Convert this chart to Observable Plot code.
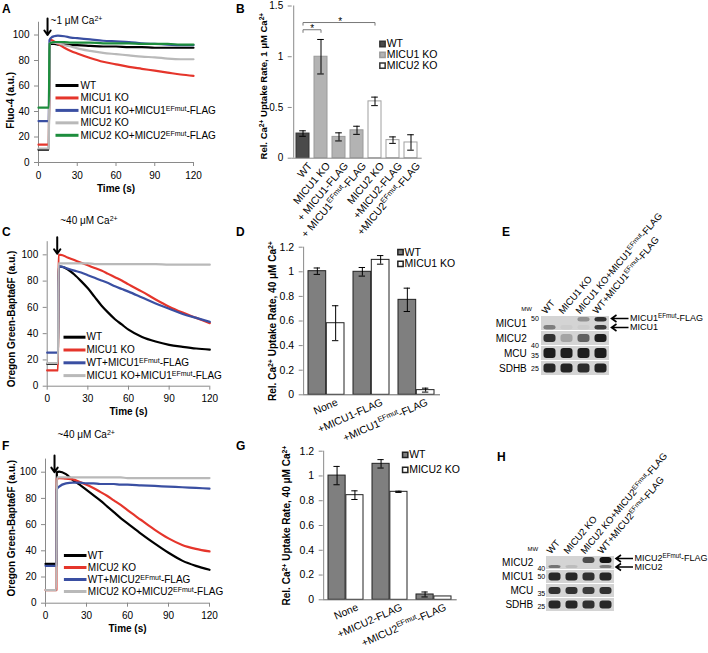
<!DOCTYPE html>
<html><head><meta charset="utf-8">
<script src="https://cdn.jsdelivr.net/npm/d3@7"></script>
<script src="https://cdn.jsdelivr.net/npm/@observablehq/plot@0.6"></script>
<style>
body{margin:0;background:#fff;}
#fig{position:relative;width:708px;height:653px;overflow:hidden;background:#fff;font-family:"Liberation Sans",Arial,Helvetica,sans-serif;}
.letter{position:absolute;font-weight:bold;font-size:12px;line-height:1;}
svg [aria-label="y-axis tick"], svg [aria-label="x-axis tick"]{stroke:#8a8a8a;}
svg [aria-label="y-axis"] .tick line, svg [aria-label="x-axis"] .tick line{stroke:#8a8a8a;}
</style></head><body><div id="fig"></div>
<script>
// ---------- Panel A: Fluo-4, ~1 uM Ca2+ ----------
const timeA = [0, 8, 8.5, 10, 12, 15, 20, 25, 30, 40, 50, 60, 70, 80, 90, 100, 110, 120];
const A_WT        = [10, 10, 93, 93, 93, 92.5, 92.5, 92, 92, 91.5, 91, 91, 90.5, 90.5, 90, 90, 90, 90];
const A_MICU1KO   = [14, 14, 96, 96, 95, 93, 90, 87.5, 85.5, 82, 79, 77, 75, 73.5, 72, 70.5, 69, 68];
const A_MICU1KOmut= [32.5, 32.5, 96, 98, 99, 99.5, 99, 98, 97.5, 96.5, 95.5, 95, 94.5, 93.5, 93, 92.5, 92, 92];
const A_MICU2KO   = [11, 11, 93, 94, 94, 93.5, 92, 91, 89.5, 87.5, 86, 85, 84, 83, 82.5, 81.5, 81, 81];
const A_MICU2KOmut= [43, 43, 93, 94, 94.5, 94.5, 94.5, 94, 94, 94, 93.5, 93.5, 93.5, 93, 93, 93, 92.5, 92.5];
const A_names = ["WT", "MICU1 KO", "MICU1 KO+MICU1^{EFmut}-FLAG", "MICU2 KO", "MICU2 KO+MICU2^{EFmut}-FLAG"];
const A_addition = {t: 7, from: 113, to: 100, label: "~1 μM Ca^{2+}"};

// ---------- Panel B: uptake rate, 1 uM ----------
const B_cats   = ["WT", "MICU1 KO", "+ MICU1-FLAG", "+ MICU1^{EFmut}-FLAG", "MICU2 KO", "+MICU2-FLAG", "+MICU2^{EFmut}-FLAG"];
const B_vals   = [0.243, 1.0, 0.21, 0.275, 0.56, 0.178, 0.155];
const B_errs   = [0.027, 0.17, 0.04, 0.04, 0.042, 0.032, 0.076];
const B_groups = ["WT", "MICU1 KO", "MICU1 KO", "MICU1 KO", "MICU2 KO", "MICU2 KO", "MICU2 KO"];
const B_legend = ["WT", "MICU1 KO", "MICU2 KO"];
const B_sig    = [{from: "WT", to: "MICU2 KO", at: 1.337}, {from: "WT", to: "MICU1 KO", at: 1.266}];

// ---------- Panel C: OGB6F, ~40 uM Ca2+, MICU1 ----------
const timeC = [0, 8, 8.3, 10, 15, 20, 25, 30, 35, 40, 45, 50, 55, 60, 70, 80, 90, 100, 110, 120];
const C_WT      = [17, 17, 91, 91, 89, 85, 80, 74.5, 68, 61.5, 56, 51, 47, 43, 37.5, 34, 31.5, 30, 28.7, 27.8];
const C_MICU1KO = [12, 12, 100, 100, 98, 96, 94, 92, 90, 88, 85.5, 83, 80.5, 77.5, 72, 66, 60.5, 56, 52, 48];
const C_WTmut   = [25.5, 25.5, 91, 91, 89.5, 88, 86.5, 84.5, 82.5, 80.5, 78.5, 76, 74, 72, 67.5, 63, 59, 55, 52, 49];
const C_KOmut   = [17.5, 17.5, 93.5, 93.5, 93.5, 93.5, 93.5, 93.5, 93, 93, 93, 93, 93, 93, 93, 93, 92.5, 92.5, 92.5, 92.5];
const C_names = ["WT", "MICU1 KO", "WT+MICU1^{EFmut}-FLAG", "MICU1 KO+MICU1^{EFmut}-FLAG"];
const C_addition = {t: 7.4, from: 113.4, to: 100.8, label: "~40 μM Ca^{2+}"};

// ---------- Panel D ----------
const D_groups = ["None", "+MICU1-FLAG", "+MICU1^{EFmut}-FLAG"];
const D_wt = [1.005, 1.0, 0.772];
const D_wtErr = [0.026, 0.035, 0.095];
const D_ko = [0.582, 1.097, 0.038];
const D_koErr = [0.142, 0.035, 0.016];
const D_legend = ["WT", "MICU1 KO"];

// ---------- Panel E: western blot ----------
const E_lanes = ["WT", "MICU1 KO", "MICU1 KO+MICU1^{EFmut}-FLAG", "WT+MICU1^{EFmut}-FLAG"];
const E_strips = ["MICU1", "MICU2", "MCU", "SDHB"];
const E_mw = ["50", "40", "35", "25"];
const E_micu1Flag = [0, 0, 0.35, 0.85];
const E_micu1 = [0.45, 0.04, 0.04, 0.8];
const E_micu2 = [0.85, 0.25, 0.6, 0.95];
const E_mcu = [0.95, 0.95, 0.95, 0.95];
const E_sdhb = [0.9, 0.92, 0.88, 0.92];
const E_arrows = ["MICU1^{EFmut}-FLAG", "MICU1"];

// ---------- Panel F: OGB6F, ~40 uM Ca2+, MICU2 ----------
const timeF = [0, 8, 8.3, 10, 15, 20, 25, 30, 35, 40, 45, 50, 55, 60, 70, 80, 90, 100, 110, 120];
const F_WT      = [30, 30, 100, 100.5, 98.5, 94, 90.5, 86.5, 82.5, 78.5, 74, 69.5, 65, 61, 53, 45.5, 38.5, 32.5, 28.5, 25.5];
const F_MICU2KO = [10, 10, 95, 95.5, 95, 94.5, 92.5, 90.5, 88, 85, 82, 78.5, 75, 71, 63.5, 56, 49.5, 44.5, 41.5, 39.5];
const F_WTmut   = [28.5, 28.5, 87, 89, 91.5, 92, 92, 91.5, 91.5, 91, 91, 91, 90.5, 90.5, 90, 89.5, 89, 88.5, 88, 87.5];
const F_KOmut   = [10, 10, 96, 96, 96, 96, 96, 96, 96, 96, 96, 96, 96, 95.5, 95.5, 95.5, 95.5, 95.5, 95.5, 95.5];
const F_names = ["WT", "MICU2 KO", "WT+MICU2^{EFmut}-FLAG", "MICU2 KO+MICU2^{EFmut}-FLAG"];
const F_addition = {t: 6.6, from: 112.7, to: 100, label: "~40 μM Ca^{2+}"};

// ---------- Panel G ----------
const G_groups = ["None", "+MICU2-FLAG", "+MICU2^{EFmut}-FLAG"];
const G_wt = [1.003, 1.098, 0.043];
const G_wtErr = [0.074, 0.034, 0.02];
const G_ko = [0.845, 0.872, 0.027];
const G_koErr = [0.035, 0.005, 0];
const G_legend = ["WT", "MICU2 KO"];

// ---------- Panel H: western blot ----------
const H_lanes = ["WT", "MICU2 KO", "MICU2 KO+MICU2^{EFmut}-FLAG", "WT+MICU2^{EFmut}-FLAG"];
const H_strips = ["MICU2", "MICU1", "MCU", "SDHB"];
const H_mw = ["40", "50", "35", "25"];
const H_micu2Flag = [0, 0, 0.7, 1.0];
const H_micu2 = [0.5, 0.12, 0, 0.45];
const H_micu1 = [0.9, 0.9, 0.85, 0.9];
const H_mcu = [0.85, 0.85, 0.8, 0.85];
const H_sdhb = [0.9, 0.9, 0.85, 0.9];
const H_arrows = ["MICU2^{EFmut}-FLAG", "MICU2"];

// ================= rendering =================
const FONT = '"Liberation Sans", Arial, Helvetica, sans-serif';
const AXIS = "#8a8a8a";
const COLORS5 = ["#000000", "#e5352b", "#3a4fa2", "#b9b9b9", "#1d8d3d"];
const fig = document.getElementById("fig");
const fmt1 = d => String(+d.toFixed(1));
const baseStyle = {fontFamily: FONT, fontSize: "10px", background: "transparent", overflow: "visible", color: "#000"};

const lineSym = {draw(ctx, size) { const r = Math.sqrt(size / Math.PI); ctx.moveTo(-r, 0); ctx.lineTo(r, 0); }};
const leftArrowSym = {draw(ctx, size) { const r = Math.sqrt(size / Math.PI);
  ctx.moveTo(r, 0); ctx.lineTo(-r, 0); ctx.moveTo(-r + 5, -3.5); ctx.lineTo(-r, 0); ctx.lineTo(-r + 5, 3.5); }};

function supify(root) {
  const ns = "http://www.w3.org/2000/svg";
  root.querySelectorAll("text, tspan").forEach(el => {
    if (el.childElementCount) return;
    const s = el.textContent;
    if (!s.includes("^{")) return;
    el.textContent = "";
    for (const p of s.split(/(\^\{[^}]*\})/)) {
      if (!p) continue;
      const t = document.createElementNS(ns, "tspan");
      if (p.startsWith("^{")) { t.textContent = p.slice(2, -1); t.setAttribute("baseline-shift", "super"); t.setAttribute("font-size", "70%"); }
      else t.textContent = p;
      el.appendChild(t);
    }
  });
}
function place(el, left, top) {
  el.style.position = "absolute"; el.style.left = left + "px"; el.style.top = top + "px";
  supify(el); fig.appendChild(el);
}
function letter(ch, left, top) {
  const d = document.createElement("div"); d.className = "letter"; d.textContent = ch;
  d.style.left = left + "px"; d.style.top = top + "px"; fig.appendChild(d);
}
const yTitleMark = (t, dx, dy, fs = 10) => Plot.text([t], {text: d => d, frameAnchor: "left", rotate: -90, dx, dy,
  textAnchor: "middle", lineAnchor: "middle", fontWeight: "bold", fontSize: fs});
const legText = (n, dx, dy, fs) => Plot.text([n], {text: d => d, frameAnchor: "top-left", dx, dy,
  textAnchor: "start", lineAnchor: "middle", fontSize: fs});
const catLabels = (cats, rotate, dx, dy, fs) => Plot.text(cats, {x: d => d, text: d => d, frameAnchor: "bottom",
  rotate, textAnchor: "end", lineAnchor: "top", dx, dy, fontSize: fs});

function linePanel(o) {
  const marks = [Plot.ruleY([0], {stroke: AXIS}), Plot.ruleX([0], {stroke: AXIS})];
  o.series.forEach((vals, k) => {
    marks.push(Plot.line(o.time.map((t, i) => ({t, v: vals[i]})), {x: "t", y: "v", stroke: o.colors[k], strokeWidth: 2.2, curve: "monotone-x"}));
  });
  o.names.forEach((n, k) => {
    marks.push(Plot.dot([n], {frameAnchor: "top-left", dx: o.legX, dy: o.legY + k * o.legStep, symbol: lineSym, r: o.legR, stroke: o.colors[k], strokeWidth: 3, fill: "none"}));
    marks.push(legText(n, o.legTextX, o.legY + k * o.legStep, 10));
  });
  marks.push(Plot.arrow([o.arrow], {x1: "t", x2: "t", y1: "from", y2: "to", stroke: "#000", strokeWidth: 2, headLength: 7, headAngle: 70}));
  marks.push(Plot.text([o.arrow], {x: "t", y: "from", text: "label", dx: 3, dy: o.arrowTextDy, textAnchor: "start", lineAnchor: "middle", fontSize: 10}));
  marks.push(Plot.text(["Time (s)"], {text: d => d, frameAnchor: "bottom", dy: 26, textAnchor: "middle", lineAnchor: "middle", fontWeight: "bold", fontSize: 10}));
  marks.push(yTitleMark(o.yTitle, o.yTitleDx, o.yTitleDy));
  return Plot.plot({width: o.W, height: o.H, marginLeft: o.mL, marginRight: o.mR, marginTop: o.mT, marginBottom: o.mB,
    style: baseStyle,
    x: {domain: [0, 120], ticks: [0, 30, 60, 90, 120], tickSize: 4, label: null},
    y: {domain: [0, 110], ticks: [0, 20, 40, 60, 80, 100], tickSize: 4, label: null},
    marks});
}

function groupedBars(o) {
  const plotW = o.W - o.mL - o.mR;
  const step = plotW / 3, bw = step * 0.8, half = bw / 2;
  const wt = o.groups.map((g, i) => ({g, v: o.wt[i], e: o.wtErr[i]}));
  const ko = o.groups.map((g, i) => ({g, v: o.ko[i], e: o.koErr[i]}));
  const marks = [
    Plot.barY(wt, {x: "g", y: "v", fill: "#7f7f7f", stroke: "#222", strokeWidth: 1, insetRight: half}),
    Plot.barY(ko, {x: "g", y: "v", fill: "#fff", stroke: "#222", strokeWidth: 1, insetLeft: half}),
    Plot.ruleY([0], {stroke: "#666"}),
    Plot.ruleX([o.groups[0]], {dx: -step / 2, stroke: AXIS})
  ];
  [[wt, -half / 2], [ko, half / 2]].forEach(([d, off]) => {
    const dd = d.filter(r => r.e > 0);
    marks.push(Plot.ruleX(dd, {x: "g", y1: r => r.v - r.e, y2: r => r.v + r.e, dx: off, stroke: "#000"}));
    for (const sgn of [1, -1])
      marks.push(Plot.tickY(dd, {x: "g", y: r => r.v + sgn * r.e, insetLeft: half + off - 3.5, insetRight: half - off - 3.5, stroke: "#000"}));
  });
  const fills = [["#7f7f7f", "#222"], ["#fff", "#222"]];
  o.legend.forEach((n, k) => {
    marks.push(Plot.dot([n], {frameAnchor: "top-left", dx: o.legX, dy: o.legY + k * o.legStep, symbol: "square", r: 3, fill: fills[k][0], stroke: fills[k][1]}));
    marks.push(legText(n, o.legX + 4, o.legY + k * o.legStep, 10.5));
  });
  marks.push(catLabels(o.groups, -24, o.labDx, 3, 10.5));
  marks.push(yTitleMark(o.yTitle, o.yTitleDx, 0));
  return Plot.plot({width: o.W, height: o.H, marginLeft: o.mL, marginRight: o.mR, marginTop: o.mT, marginBottom: o.mB,
    style: {...baseStyle, fontSize: "10.5px"},
    x: {domain: o.groups, paddingInner: 0.2, paddingOuter: 0.1, axis: null},
    y: {domain: [0, 1.2], ticks: [0, 0.2, 0.4, 0.6, 0.8, 1, 1.2], tickFormat: fmt1, tickSize: 4, label: null},
    marks});
}

function blotPanel(o) {
  const cells = [];
  o.strips.forEach(s => o.lanes.forEach(l => cells.push({s, l})));
  const marks = [Plot.cell(cells, {x: "l", y: "s", fill: "#d4d4d4"})];
  o.bands.forEach(b => {
    const d = o.lanes.map((l, i) => ({l, s: b.strip, a: b.levels[i]})).filter(r => r.a > 0);
    marks.push(Plot.cell(d, {x: "l", y: "s", fill: "#141414", fillOpacity: "a", insetLeft: 2.5, insetRight: 2.5, insetTop: b.top, insetBottom: b.bottom, rx: 3}));
  });
  marks.push(Plot.text(o.lanes, {x: d => d, text: d => d, frameAnchor: "top", rotate: -50, textAnchor: "start", lineAnchor: "bottom", dx: -4, dy: -1, fontSize: 9.5}));
  marks.push(Plot.text(o.strips, {y: d => d, text: d => d, frameAnchor: "left", textAnchor: "end", lineAnchor: "middle", dx: o.nameDx, fontSize: 10}));
  o.strips.forEach((s, i) => {
    marks.push(Plot.text([o.mw[i]], {y: () => s, text: d => d, frameAnchor: "left", textAnchor: "end", lineAnchor: "middle", dx: -1, dy: o.mwDy[i], fontSize: 7}));
  });
  marks.push(Plot.text(["MW"], {text: d => d, frameAnchor: "top-left", dx: -8, dy: -6, textAnchor: "end", lineAnchor: "middle", fontSize: 6}));
  o.arrows.forEach((lab, k) => {
    marks.push(Plot.dot([lab], {frameAnchor: "top-right", dx: o.arrowX, dy: o.arrowDy[k], symbol: leftArrowSym, r: 8.5, stroke: "#000", strokeWidth: 1.6, fill: "none"}));
    marks.push(Plot.text([lab], {text: d => d, frameAnchor: "top-right", dx: o.arrowX + 10, dy: o.arrowDy[k], textAnchor: "start", lineAnchor: "middle", fontSize: 9}));
  });
  return Plot.plot({width: o.W, height: o.H, marginLeft: o.mL, marginRight: o.mR, marginTop: o.mT, marginBottom: o.mB,
    style: baseStyle,
    x: {domain: o.lanes, padding: 0, axis: null},
    y: {domain: o.strips, paddingInner: 0.1, paddingOuter: 0, axis: null},
    opacity: {domain: [0, 1], range: [0, 1]},
    marks});
}

// ----- A -----
place(linePanel({W: 240, H: 200, mL: 38, mR: 47, mT: 21.75, mB: 38, time: timeA,
  series: [A_WT, A_MICU1KO, A_MICU1KOmut, A_MICU2KO, A_MICU2KOmut], colors: COLORS5, names: A_names,
  legX: 28.5, legTextX: 42, legY: 63.25, legStep: 12.45, legR: 11.5,
  arrow: A_addition, arrowTextDy: 2, yTitle: "Fluo-4 (a.u.)", yTitleDx: -28, yTitleDy: 8}), 0, 0);

// ----- B -----
(function () {
  const W = 250, H = 240, mL = 51.7, mR = 68.3, mT = 5.5, mB = 82.3;
  const step = (W - mL - mR) / 7, bw = step * 0.72, capIn = (bw - 7) / 2;
  const data = B_cats.map((c, i) => ({c, v: B_vals[i], e: B_errs[i], g: B_groups[i]}));
  const sty = {"WT": ["#4a4a4a", "#333"], "MICU1 KO": ["#b3b3b3", "#9a9a9a"], "MICU2 KO": ["#ffffff", "#a0a0a0"]};
  const marks = [];
  B_legend.forEach(g => marks.push(Plot.barY(data.filter(d => d.g === g), {x: "c", y: "v", fill: sty[g][0], stroke: sty[g][1]})));
  marks.push(Plot.ruleY([0], {stroke: AXIS}), Plot.ruleX([B_cats[0]], {dx: -step / 2, stroke: AXIS}));
  marks.push(Plot.ruleX(data, {x: "c", y1: d => d.v - d.e, y2: d => d.v + d.e, stroke: "#000"}));
  marks.push(Plot.tickY(data, {x: "c", y: d => d.v + d.e, insetLeft: capIn, insetRight: capIn, stroke: "#000"}));
  marks.push(Plot.tickY(data, {x: "c", y: d => d.v - d.e, insetLeft: capIn, insetRight: capIn, stroke: "#000"}));
  marks.push(Plot.link(B_sig, {x1: "from", x2: "to", y1: "at", y2: "at", stroke: "#777"}));
  marks.push(Plot.link(B_sig, {x1: "from", x2: "from", y1: "at", y2: d => d.at - 0.03, stroke: "#777"}));
  marks.push(Plot.link(B_sig, {x1: "to", x2: "to", y1: "at", y2: d => d.at - 0.03, stroke: "#777"}));
  B_sig.forEach(s => {
    const span = B_cats.indexOf(s.to) - B_cats.indexOf(s.from);
    marks.push(Plot.text([s], {x: "from", y: "at", text: () => "*", dx: span * step / 2, dy: -1, textAnchor: "middle", lineAnchor: "middle", fontSize: 10}));
  });
  B_legend.forEach((g, k) => {
    marks.push(Plot.dot([g], {frameAnchor: "top-left", dx: 90.3, dy: 38 + k * 10.8, symbol: "square", r: 3, fill: sty[g][0], stroke: g === "MICU1 KO" ? "#9a9a9a" : "#333"}));
    marks.push(legText(g, 94.5, 38 + k * 10.8, 10.5));
  });
  marks.push(catLabels(B_cats, -50, 4, 3, 10.5));
  marks.push(yTitleMark("Rel. Ca^{2+} Uptake Rate, 1 μM Ca^{2+}", -28.7, 4, 9.5));
  place(Plot.plot({width: W, height: H, marginLeft: mL, marginRight: mR, marginTop: mT, marginBottom: mB,
    style: baseStyle,
    x: {domain: B_cats, paddingInner: 0.28, paddingOuter: 0.14, axis: null},
    y: {domain: [0, 1.5], ticks: [0, 0.5, 1, 1.5], tickFormat: fmt1, tickSize: 4, label: null},
    marks}), 240, 0);
})();

// ----- C -----
place(linePanel({W: 240, H: 230, mL: 46.7, mR: 30.7, mT: 41.2, mB: 44.3, time: timeC,
  series: [C_WT, C_MICU1KO, C_WTmut, C_KOmut], colors: ["#000000", "#e5352b", "#3a4fa2", "#b9b9b9"], names: C_names,
  legX: 27.3, legTextX: 39.3, legY: 95.5, legStep: 12.8, legR: 11,
  arrow: C_addition, arrowTextDy: -16, yTitle: "Oregon Green-Bapta6F (a.u.)", yTitleDx: -35, yTitleDy: 5}), 0, 200);

// ----- D -----
place(groupedBars({W: 250, H: 240, mL: 62.7, mR: 50, mT: 46.7, mB: 45.7, groups: D_groups,
  wt: D_wt, wtErr: D_wtErr, ko: D_ko, koErr: D_koErr, legend: D_legend, legX: 97.3, legY: 5, legStep: 11.6, labDx: 9,
  yTitle: "Rel. Ca^{2+} Uptake Rate, 40 μM Ca^{2+}", yTitleDx: -30.7}), 240, 200);

// ----- E -----
place(blotPanel({W: 228, H: 200, mL: 59.3, mR: 98, mT: 115, mB: 25, lanes: E_lanes, strips: E_strips, mw: E_mw,
  mwDy: [-5, 7, 2, 0], nameDx: -13, arrowX: 9.5,
  bands: [{strip: "MICU1", levels: E_micu1Flag, top: 1, bottom: 8.5}, {strip: "MICU1", levels: E_micu1, top: 9, bottom: 0.5},
          {strip: "MICU2", levels: E_micu2, top: 3, bottom: 3}, {strip: "MCU", levels: E_mcu, top: 2, bottom: 2},
          {strip: "SDHB", levels: E_sdhb, top: 2.5, bottom: 2.5}],
  arrows: E_arrows, arrowDy: [3, 12]}), 480, 200);

// ----- F -----
place(linePanel({W: 240, H: 233, mL: 45, mR: 31, mT: 38.6, mB: 50.3, time: timeF,
  series: [F_WT, F_MICU2KO, F_WTmut, F_KOmut], colors: ["#000000", "#e5352b", "#3a4fa2", "#b9b9b9"], names: F_names,
  legX: 29.7, legTextX: 42.3, legY: 96.4, legStep: 12, legR: 11.3,
  arrow: F_addition, arrowTextDy: -21, yTitle: "Oregon Green-Bapta6F (a.u.)", yTitleDx: -34, yTitleDy: -3}), 0, 420);

// ----- G -----
place(groupedBars({W: 250, H: 233, mL: 82.7, mR: 33.3, mT: 30.7, mB: 53.7, groups: G_groups,
  wt: G_wt, wtErr: G_wtErr, ko: G_ko, koErr: G_koErr, legend: G_legend, legX: 82, legY: 3.6, legStep: 15, labDx: 10,
  yTitle: "Rel. Ca^{2+} Uptake Rate, 40 μM Ca^{2+}", yTitleDx: -36}), 240, 420);

// ----- H -----
place(blotPanel({W: 228, H: 213, mL: 65.7, mR: 93, mT: 115, mB: 41.3, lanes: H_lanes, strips: H_strips, mw: H_mw,
  mwDy: [5.5, 0, 3, 2], nameDx: -13, arrowX: 9,
  bands: [{strip: "MICU2", levels: H_micu2Flag, top: 1, bottom: 6}, {strip: "MICU2", levels: H_micu2, top: 9, bottom: 1},
          {strip: "MICU1", levels: H_micu1, top: 2.5, bottom: 2.5}, {strip: "MCU", levels: H_mcu, top: 3, bottom: 3},
          {strip: "SDHB", levels: H_sdhb, top: 2.5, bottom: 2.5}],
  arrows: H_arrows, arrowDy: [3, 11.5]}), 480, 440);

letter("A", 2, 3); letter("B", 236, 3); letter("C", 2, 226); letter("D", 236, 226);
letter("E", 502, 226); letter("F", 2, 440); letter("G", 236, 440); letter("H", 497, 451);
</script></body></html>
